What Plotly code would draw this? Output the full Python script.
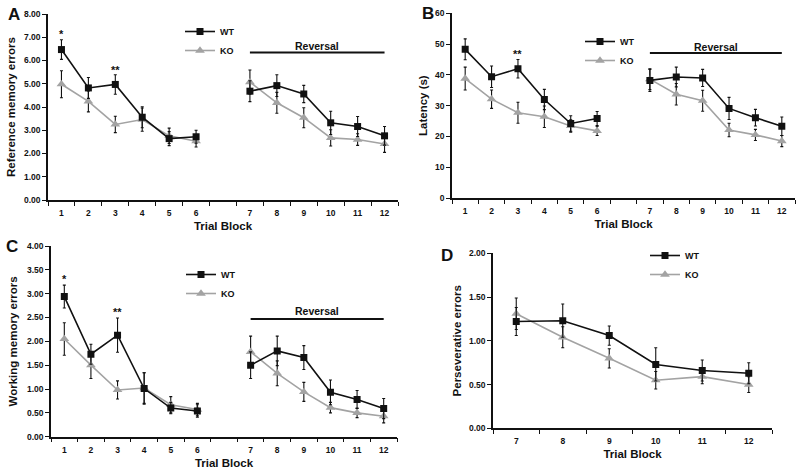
import plotly.graph_objects as go

# ---------------- data ----------------
blocks = ["1", "2", "3", "4", "5", "6", "7", "8", "9", "10", "11", "12"]
rev_blocks = ["7", "8", "9", "10", "11", "12"]

A_wt = [6.47, 4.82, 4.97, 3.56, 2.64, 2.72, 4.68, 4.92, 4.56, 3.32, 3.16, 2.76]
A_wt_err = [0.42, 0.45, 0.42, 0.45, 0.30, 0.28, 0.45, 0.47, 0.37, 0.50, 0.43, 0.40]
A_ko = [4.98, 4.24, 3.25, 3.46, 2.76, 2.53, 5.07, 4.18, 3.54, 2.67, 2.60, 2.41]
A_ko_err = [0.58, 0.45, 0.35, 0.50, 0.33, 0.25, 0.52, 0.45, 0.43, 0.35, 0.25, 0.36]

B_wt = [48.3, 39.4, 42.0, 32.0, 24.2, 25.8, 38.2, 39.3, 39.0, 29.1, 26.1, 23.3]
B_wt_err = [3.4, 3.5, 3.0, 3.3, 2.5, 2.3, 3.6, 3.2, 2.8, 3.6, 2.7, 3.0]
B_ko = [38.8, 32.1, 27.7, 26.4, 23.4, 21.8, 38.6, 33.7, 31.6, 22.1, 20.5, 18.5]
B_ko_err = [3.7, 3.0, 3.4, 3.5, 2.0, 1.5, 3.4, 3.5, 3.4, 2.2, 1.8, 1.8]

C_wt = [2.94, 1.73, 2.13, 1.01, 0.60, 0.54, 1.50, 1.80, 1.66, 0.93, 0.78, 0.59]
C_wt_err = [0.24, 0.21, 0.36, 0.33, 0.12, 0.13, 0.28, 0.31, 0.25, 0.26, 0.19, 0.21]
C_ko = [2.05, 1.50, 0.98, 1.02, 0.67, 0.57, 1.78, 1.33, 0.94, 0.61, 0.50, 0.43]
C_ko_err = [0.34, 0.28, 0.19, 0.32, 0.17, 0.13, 0.33, 0.26, 0.20, 0.11, 0.10, 0.14]

D_wt = [1.22, 1.23, 1.06, 0.73, 0.66, 0.63]
D_wt_err = [0.16, 0.19, 0.11, 0.19, 0.12, 0.12]
D_ko = [1.31, 1.04, 0.80, 0.55, 0.59, 0.50]
D_ko_err = [0.18, 0.12, 0.11, 0.10, 0.08, 0.09]

# ---------------- styling ----------------
FONT = "Liberation Sans, Arial, Helvetica, sans-serif"
BLACK = "#111111"
GRAY = "#a3a3a3"
GAP = " "  # empty slot between acquisition and reversal
cats_full = blocks[:6] + [GAP] + blocks[6:]


def with_gap(vals):
    return list(vals[:6]) + [None] + list(vals[6:])


def cat_index(label):
    return cats_full.index(label)


fig = go.Figure()


def add_series(xcats, wt, wterr, ko, koerr, xa, ya, leg):
    fig.add_trace(go.Scatter(
        x=xcats, y=ko, name="KO", mode="lines+markers", xaxis=xa, yaxis=ya,
        legend=leg, legendrank=2,
        line=dict(color=GRAY, width=1.6),
        marker=dict(symbol="triangle-up", size=8.5, color=GRAY),
        error_y=dict(type="data", array=koerr, color=BLACK, thickness=1.1, width=1.5),
        connectgaps=False))
    fig.add_trace(go.Scatter(
        x=xcats, y=wt, name="WT", mode="lines+markers", xaxis=xa, yaxis=ya,
        legend=leg, legendrank=1,
        line=dict(color=BLACK, width=1.6),
        marker=dict(symbol="square", size=7, color=BLACK),
        error_y=dict(type="data", array=wterr, color=BLACK, thickness=1.1, width=1.5),
        connectgaps=False))


add_series(cats_full, with_gap(A_wt), with_gap(A_wt_err), with_gap(A_ko), with_gap(A_ko_err), "x", "y", "legend")
add_series(cats_full, with_gap(B_wt), with_gap(B_wt_err), with_gap(B_ko), with_gap(B_ko_err), "x2", "y2", "legend2")
add_series(cats_full, with_gap(C_wt), with_gap(C_wt_err), with_gap(C_ko), with_gap(C_ko_err), "x3", "y3", "legend3")
add_series(rev_blocks, D_wt, D_wt_err, D_ko, D_ko_err, "x4", "y4", "legend4")

tickfont = dict(family=FONT, size=8.5, color=BLACK, weight="bold")
titlefont = dict(family=FONT, size=11.5, color=BLACK, weight="bold")


def xaxis(domain, anchor, catarray):
    return dict(domain=domain, anchor=anchor, type="category",
                categoryorder="array", categoryarray=catarray,
                range=[-0.5, len(catarray) - 0.5],
                tickson="boundaries", ticks="outside", ticklen=4, tickwidth=1.2,
                tickcolor=BLACK, showline=True, linecolor=BLACK, linewidth=1.5,
                showgrid=False, zeroline=False, tickfont=tickfont,
                ticklabelstandoff=4,
                title=dict(text="Trial Block", font=titlefont, standoff=5),
                automargin=False)


def yaxis(domain, anchor, rng, dtick, fmt, title, standoff=6):
    return dict(domain=domain, anchor=anchor, range=rng, dtick=dtick, tick0=0,
                tickformat=fmt, ticks="outside", ticklen=4, tickwidth=1.2,
                tickcolor=BLACK, showline=True, linecolor=BLACK, linewidth=1.5,
                showgrid=False, zeroline=False, tickfont=tickfont,
                title=dict(text=title, font=titlefont, standoff=standoff),
                automargin=False)


W, H = 800, 474


def px_x(a, b):
    return [a / W, b / W]


def px_y(top, bottom):
    return [1 - bottom / H, 1 - top / H]


def legend_at(xp, yp):
    return dict(x=xp / W, y=1 - yp / H, xanchor="left", yanchor="top",
                font=dict(family=FONT, size=9, color=BLACK, weight="bold"),
                bgcolor="rgba(0,0,0,0)", itemwidth=30, tracegroupgap=0,
                traceorder="normal")


fig.update_layout(
    width=W, height=H, margin=dict(l=0, r=0, t=0, b=0),
    paper_bgcolor="white", plot_bgcolor="white",
    xaxis=xaxis(px_x(48, 398), "y", cats_full),
    yaxis=yaxis(px_y(14, 200), "x", [0, 8], 1, ".2f", "Reference memory errors"),
    xaxis2=xaxis(px_x(452, 795), "y2", cats_full),
    yaxis2=yaxis(px_y(13.3, 198), "x2", [0, 60], 10, "d", "Latency (s)", 5),
    xaxis3=xaxis(px_x(51, 397), "y3", cats_full),
    yaxis3=yaxis(px_y(246, 436.7), "x3", [0, 4], 0.5, ".2f", "Working memory errors", 7),
    xaxis4=xaxis(px_x(493, 772), "y4", rev_blocks),
    yaxis4=yaxis(px_y(253.3, 428.3), "x4", [0, 2], 0.5, ".2f", "Perseverative errors", 5),
    legend=legend_at(180, 17),
    legend2=legend_at(580, 27),
    legend3=legend_at(181, 260),
    legend4=legend_at(645, 241),
    showlegend=True,
)

# panel letters
for letter, xp, yp in [("A", 14, 15), ("B", 428, 13), ("C", 12, 247), ("D", 447, 255)]:
    fig.add_annotation(text=letter, x=xp / W, y=1 - yp / H, xref="paper", yref="paper",
                       showarrow=False, xanchor="center", yanchor="middle",
                       font=dict(family=FONT, size=17, color=BLACK, weight="bold"))

# significance stars (placed above the WT points of blocks 1 and 3)
for txt, xa, ya, blk, yv in [("*", "x", "y", "1", 6.79), ("**", "x", "y", "3", 5.24),
                             ("**", "x2", "y2", "3", 44.3),
                             ("*", "x3", "y3", "1", 3.13), ("**", "x3", "y3", "3", 2.455)]:
    fig.add_annotation(text=txt, x=cat_index(blk), y=yv, xref=xa, yref=ya, showarrow=False,
                       xanchor="center", yanchor="bottom",
                       font=dict(family=FONT, size=11, color=BLACK, weight="bold"))

# Reversal bars spanning blocks 7-12
for xa, ya, yline, ytext in [("x", "y", 6.34, 6.63), ("x2", "y2", 47.1, 49.0), ("x3", "y3", 2.47, 2.635)]:
    fig.add_shape(type="line", xref=xa, yref=ya, x0=cat_index("7"), x1=cat_index("12"),
                  y0=yline, y1=yline, line=dict(color=BLACK, width=2))
    fig.add_annotation(text="Reversal", x=(cat_index("7") + cat_index("12")) / 2, y=ytext,
                       xref=xa, yref=ya, showarrow=False,
                       xanchor="center", yanchor="middle",
                       font=dict(family=FONT, size=10.5, color=BLACK, weight="bold"))

fig.write_html("out.html", config={"displayModeBar": False},
               post_script="document.body.style.margin='0';")
